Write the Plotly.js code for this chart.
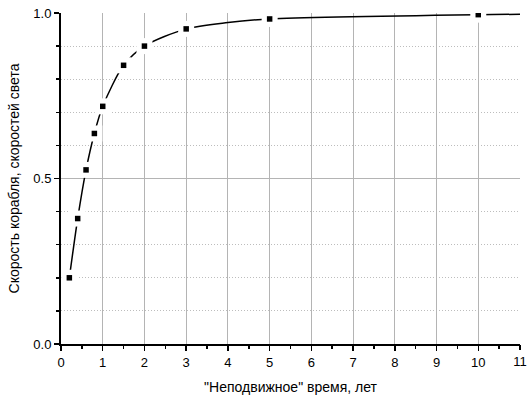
<!DOCTYPE html>
<html>
<head>
<meta charset="utf-8">
<script src="https://cdn.plot.ly/plotly-3.0.1.min.js"></script>
<style>html,body{margin:0;padding:0;background:#fff;}</style>
</head>
<body>
<div id="chart" style="width:531px;height:400px;"></div>
<script>
const timeYears = [0.2, 0.4, 0.6, 0.8, 1, 1.5, 2, 3, 5, 10];
const shipSpeed = [0.2, 0.379, 0.526, 0.636, 0.718, 0.842, 0.9, 0.952, 0.982, 0.995];
const curveX = [0.2, 0.4, 0.6, 0.8, 1, 1.5, 2, 3, 4, 5, 10, 11];
const curveY = [0.2, 0.379, 0.526, 0.636, 0.718, 0.842, 0.9, 0.952, 0.971, 0.982, 0.995, 0.996];
const xTicks = [0,1,2,3,4,5,6,7,8,9,10];
const xEndTick = [11];
const yTicks = [0, 0.5, 1.0];
const yTickText = ['0.0', '0.5', '1.0'];

const font = {family: 'Liberation Sans, Arial, sans-serif', size: 13, color: '#000'};

const traces = [
  {x: curveX, y: curveY, mode: 'lines', line: {color: '#000', width: 1.5, shape: 'spline', smoothing: 0.8},
   hoverinfo: 'skip', showlegend: false},
  {x: timeYears, y: shipSpeed, xaxis: 'x2', yaxis: 'y2', mode: 'markers',
   marker: {symbol: 'square', size: 16, color: '#fff', opacity: 1, line: {width: 0}},
   hoverinfo: 'skip', showlegend: false},
  {x: timeYears, y: shipSpeed, xaxis: 'x2', yaxis: 'y2', mode: 'markers',
   marker: {symbol: 'square', size: 5.5, color: '#000', line: {width: 0}},
   showlegend: false},
  {x: xEndTick, y: [null], xaxis: 'x3', mode: 'markers', hoverinfo: 'skip', showlegend: false}
];

const layout = {
  width: 531, height: 400,
  margin: {l: 61, r: 11, t: 13, b: 56},
  paper_bgcolor: '#fff', plot_bgcolor: '#fff',
  font: font,
  showlegend: false,
  xaxis: {
    range: [0, 11], tickvals: xTicks, ticktext: xTicks.map(String),
    showline: true, linecolor: '#000', linewidth: 2,
    ticks: 'outside', ticklen: 5, tickwidth: 1.5, tickcolor: '#000',
    showgrid: true, gridcolor: '#b4b4b4', gridwidth: 1,
    zeroline: false,
    minor: {dtick: 0.5, ticks: 'outside', ticklen: 3, tickwidth: 1.5, tickcolor: '#000', showgrid: false},
    tickfont: font,
    title: {text: '"Неподвижное" время, лет', font: {family: font.family, size: 14, color: '#000'}, standoff: 14}
  },
  xaxis2: {overlaying: 'x', anchor: 'y2', range: [0, 11], visible: false},
  yaxis2: {overlaying: 'y', anchor: 'x2', range: [0, 1], visible: false},
  xaxis3: {
    overlaying: 'x', side: 'bottom', anchor: 'y', range: [0, 11],
    tickvals: xEndTick, ticktext: xEndTick.map(String),
    showline: false, showgrid: false, zeroline: false,
    ticks: 'outside', ticklen: 5, tickwidth: 1.5, tickcolor: '#000',
    tickfont: font
  },
  yaxis: {
    range: [0, 1], tickvals: yTicks, ticktext: yTickText,
    showline: true, linecolor: '#000', linewidth: 2,
    ticks: 'outside', ticklen: 5, tickwidth: 1.5, tickcolor: '#000',
    showgrid: true, gridcolor: '#b4b4b4', gridwidth: 1,
    zeroline: false,
    minor: {dtick: 0.1, ticks: 'outside', ticklen: 3, tickwidth: 1.5, tickcolor: '#000',
            showgrid: true, gridcolor: '#bdbdbd', griddash: '1px,2px', gridwidth: 1},
    tickfont: font,
    title: {text: 'Скорость корабля, скоростей света', font: {family: font.family, size: 14, color: '#000'}, standoff: 10}
  }
};

Plotly.newPlot('chart', traces, layout, {staticPlot: true, displayModeBar: false});
</script>
</body>
</html>
